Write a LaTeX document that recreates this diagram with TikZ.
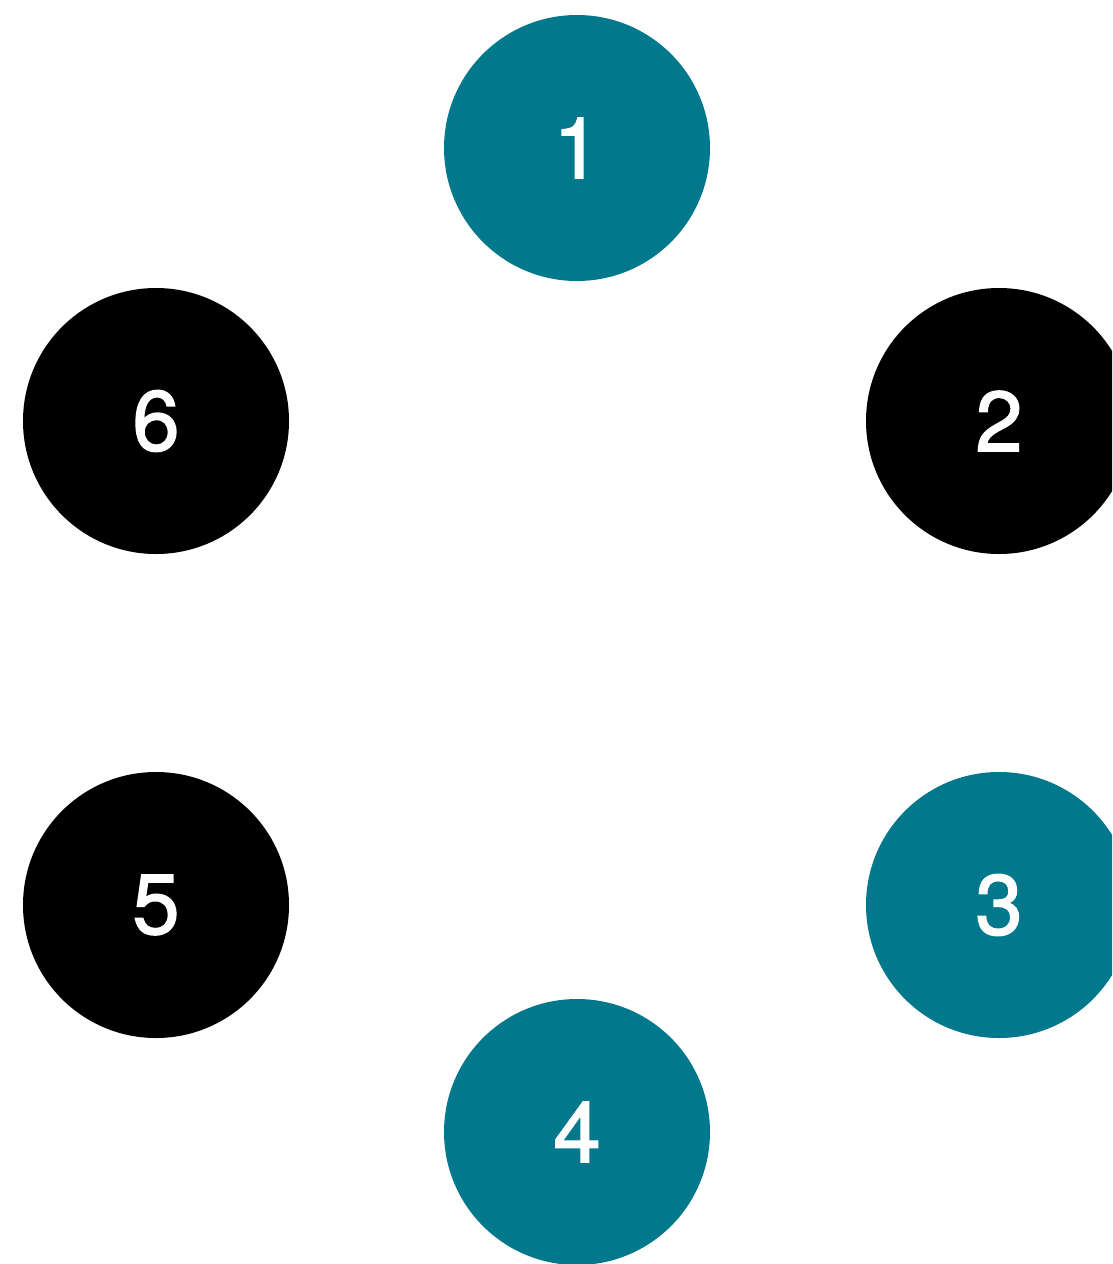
\documentclass[tikz,border=0pt]{standalone}
\usepackage{fontspec}
\setmainfont{TeX Gyre Heros}
\newfontface\digitfont[FakeBold=1.6]{TeX Gyre Heros}
\definecolor{tealnode}{RGB}{2,120,141}

\begin{document}
\begin{tikzpicture}[x=1pt, y=-1pt,
    vertex/.style={circle, minimum size=266pt, inner sep=0pt, text=white,
      font=\digitfont\fontsize{85}{85}\selectfont},
    tealv/.style={vertex, fill=tealnode},
    blackv/.style={vertex, fill=black}]
    \useasboundingbox (0,0) rectangle (1112,1264);
    \clip (0,0) rectangle (1112,1264);
    \node[tealv]  (n1) at (577,148)  {1};
    \node[blackv] (n2) at (999,421)  {2};
    \node[tealv]  (n3) at (999,905)  {3};
    \node[tealv]  (n4) at (577,1132) {4};
    \node[blackv] (n5) at (156,905)  {5};
    \node[blackv] (n6) at (156,421)  {6};
  \end{tikzpicture}
\end{document}
